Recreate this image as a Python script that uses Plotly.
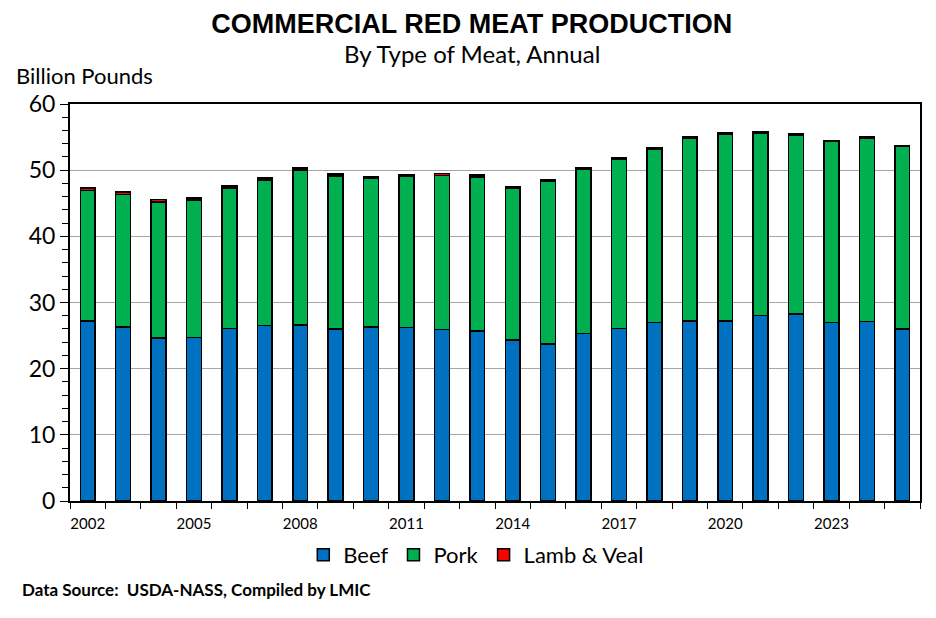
import plotly.graph_objects as go

# Data (billion pounds)
years = list(range(2002, 2026))
beef = [27.2, 26.3, 24.6, 24.7, 26.1, 26.5, 26.6, 26.0, 26.3, 26.2, 25.9, 25.7,
        24.3, 23.7, 25.3, 26.1, 27.0, 27.2, 27.2, 28.0, 28.3, 27.0, 27.1, 26.0]
pork = [19.7, 20.0, 20.6, 20.8, 21.2, 22.0, 23.4, 23.1, 22.5, 22.9, 23.3, 23.3,
        22.9, 24.6, 24.9, 25.6, 26.2, 27.6, 28.3, 27.6, 27.0, 27.3, 27.8, 27.6]
lamb_veal = [0.42, 0.40, 0.34, 0.33, 0.34, 0.33, 0.30, 0.29, 0.27, 0.25, 0.27, 0.24,
             0.22, 0.23, 0.23, 0.22, 0.23, 0.22, 0.22, 0.19, 0.19, 0.17, 0.17, 0.16]
label_years = [2002, 2005, 2008, 2011, 2014, 2017, 2020, 2023]

font_main = "Lato, 'Open Sans', sans-serif"

fig = go.Figure()

for name, vals, color in [("Beef", beef, "#0070C0"),
                          ("Pork", pork, "#00B050"),
                          ("Lamb & Veal", lamb_veal, "#FF0000")]:
    fig.add_trace(go.Bar(
        x=years,
        y=vals,
        name=name,
        marker=dict(color=color, line=dict(color="black", width=1.5)),
        width=0.42,
    ))

# page body has an 8px margin, so the figure is 920x602
fig.update_layout(
    width=920,
    height=602,
    barmode="stack",
    plot_bgcolor="white",
    paper_bgcolor="white",
    margin=dict(l=62, r=6, t=96, b=109),
    font=dict(family=font_main, color="black"),
    title=dict(
        text="<b>COMMERCIAL RED MEAT PRODUCTION</b>",
        font=dict(family="Liberation Sans, Arial, sans-serif", size=27, color="black"),
        x=0.504, xanchor="center", y=0.975, yanchor="middle",
    ),
    legend=dict(
        orientation="h", x=0.478, xanchor="center", y=-0.136, yanchor="middle",
        font=dict(size=22, family=font_main), traceorder="normal",
    ),
    showlegend=True,
)

fig.add_annotation(text="By Type of Meat, Annual", xref="paper", yref="paper",
                   x=0.473, y=1.128, xanchor="center", yanchor="middle",
                   showarrow=False, font=dict(size=24, family=font_main))
fig.add_annotation(text="Billion Pounds", xref="paper", yref="paper",
                   x=-0.066, y=1.073, xanchor="left", yanchor="middle",
                   showarrow=False, font=dict(size=22, family=font_main))
fig.add_annotation(text="<b>Data Source:  USDA-NASS, Compiled by LMIC</b>",
                   xref="paper", yref="paper", x=-0.059, y=-0.224,
                   xanchor="left", yanchor="middle", showarrow=False,
                   font=dict(size=17, family=font_main))

fig.update_yaxes(
    range=[0, 60], dtick=10, tick0=0,
    showgrid=True, gridcolor="#a6a6a6", gridwidth=1,
    showline=True, linecolor="black", linewidth=2, mirror=True,
    ticks="outside", ticklen=8, tickcolor="black", tickwidth=1,
    tickfont=dict(size=23, family=font_main),
    minor=dict(dtick=2, ticks="outside", ticklen=6, tickcolor="black", showgrid=False),
    zeroline=False,
)

fig.update_xaxes(
    range=[2001.5, 2025.5],
    tickvals=label_years, ticktext=[str(y) for y in label_years],
    ticks="", showgrid=False, ticklabelstandoff=8,
    showline=True, linecolor="black", linewidth=2, mirror=True,
    tickfont=dict(size=15, family=font_main),
    minor=dict(tick0=2001.5, dtick=1, ticks="outside", ticklen=6,
               tickcolor="black", showgrid=False),
    zeroline=False,
)

fig.write_html("out.html")
